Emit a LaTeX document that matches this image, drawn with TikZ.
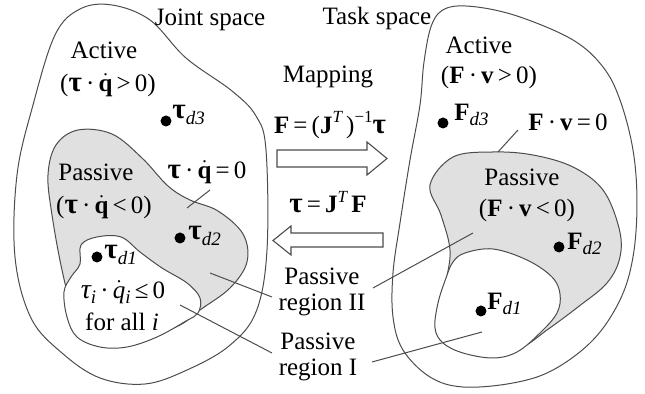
\documentclass[tikz,border=0pt]{standalone}
\usepackage{fontspec}
\setmainfont{Liberation Serif}
\newcommand{\Btau}{{\fontsize{14.5}{15}\selectfont\bfseries τ}}
\newcommand{\Itau}{{\fontsize{14}{15}\selectfont\itshape τ}}
\newcommand{\Bq}{$\dot{\mbox{\bfseries q}}$}
\newcommand{\Iq}{$\dot{\mbox{\itshape q}}$}
\newcommand{\Dt}{\,·\,}
\newcommand{\Sb}[1]{\raisebox{-0.45ex}{\fontsize{9.5}{10}\selectfont\itshape #1}}
\newcommand{\JT}{\textbf{J}\raisebox{0.9ex}{\fontsize{8.5}{9}\selectfont\itshape T}}
\tikzset{
  blob/.style={draw=black!70, line width=0.5pt},
  passive/.style={blob, fill=black!12},
  hole/.style={blob, fill=white},
  lbl/.style={inner sep=0pt, font=\fontsize{12.5}{15}\selectfont, align=center},
  dotm/.style={circle, fill=black, inner sep=0pt, minimum size=5.5pt},
  lead/.style={draw=black!70, line width=0.5pt},
  hollow/.style={draw=black!70, line width=0.55pt, fill=white},
}
\begin{document}
\begin{tikzpicture}[x=0.5pt, y=-0.5pt]
\useasboundingbox (0,0) rectangle (645,394);
% left outer blob
\draw[blob] plot[smooth cycle, tension=0.6] coordinates {(80,9) (112,5) (150,20) (186,58) (232,91) (256,116) (266,150) (267,250) (256,312) (229,346) (187,370) (145,384) (100,378) (62,353) (31,318) (15,257) (17,175) (33,105) (55,35)};
% left gray passive region
\draw[passive] plot[smooth cycle, tension=0.6] coordinates {(78,130) (112,134) (142,158) (168,186) (190,200) (218,211) (243,234) (247,262) (230,288) (200,310) (180,325) (150,335) (115,338) (90,330) (72,305) (62,270) (52,215) (48,175) (56,145)};
% left passive region I
\draw[hole] plot[smooth cycle, tension=0.6] coordinates {(81,245) (97,237) (121,237) (140,252) (162,268) (187,283) (200,298) (198,313) (186,321) (157,337) (127,347) (100,347) (77,337) (67,317) (64,292) (71,277) (80,264)};
% right outer blob
\draw[blob] plot[smooth cycle, tension=0.6] coordinates {(447,8) (477,7) (520,17) (573,40) (603,67) (620,100) (633,150) (637,203) (633,257) (620,300) (593,340) (553,370) (513,383) (463,387) (430,377) (403,350) (393,317) (393,273) (400,223) (410,160) (420,105) (424,62) (432,24)};
% right gray
\draw[passive] plot[smooth cycle, tension=0.6] coordinates {(453,157) (493,152) (533,155) (573,167) (603,190) (619,228) (620,257) (607,283) (578,307) (547,330) (520,348) (485,352) (450,342) (440,318) (446,282) (450,250) (441,215) (430,185)};
% right passive region I
\draw[hole] plot[smooth cycle, tension=0.6] coordinates {(465,253) (493,249) (527,260) (552,277) (560,294) (557,313) (540,333) (517,352) (493,358) (463,353) (443,343) (435,328) (438,303) (446,278) (453,262)};

% hollow arrows
\draw[hollow] (277,150) -- (367,150) -- (367,142) -- (387,158.5) -- (367,175) -- (367,167) -- (277,167) -- cycle;
\draw[hollow] (383,233) -- (291,233) -- (291,226) -- (273,240.5) -- (291,255) -- (291,247) -- (383,247) -- cycle;

% left labels
\node[lbl] (js) at (210,20) {Joint space};
\node[lbl] (actL) at (104,50) {Active};
\node[lbl] (actLc) at (108,85) {(\Btau\Dt\Bq\,>\,0)};
\node[dotm] (td3) at (166,121) {};
\node[lbl, anchor=west] (td3l) at (172,115) {\Btau\Sb{d3}};
\node[lbl] (pasL) at (96,172) {Passive};
\node[lbl] (pasLc) at (104,207) {(\Btau\Dt\Bq\,<\,0)};
\node[lbl] (zeroL) at (207,172) {\Btau\Dt\Bq\,=\,0};
\node[dotm] (td2) at (180,238) {};
\node[lbl, anchor=west] (td2l) at (188,236) {\Btau\Sb{d2}};
\node[dotm] (td1) at (97,257) {};
\node[lbl, anchor=west] (td1l) at (104,255) {\Btau\Sb{d1}};
\node[lbl] (condL) at (123,292) {\Itau\Sb{i}\Dt\Iq\Sb{i}\,≤\,0};
\node[lbl] (forall) at (122,322) {for all \textit{i}};

% middle labels
\node[lbl] (map) at (328,77) {Mapping};
\node[lbl] (fwd) at (330,125) {\textbf{F}\,=\,(\JT\,)\raisebox{0.9ex}{\fontsize{8.5}{9}\selectfont −1}\Btau};
\node[lbl] (bwd) at (328,202) {\Btau\,=\,\JT\,\textbf{F}};
\node[lbl] (p2) at (322,292) {Passive\\[-2pt]region II};
\node[lbl] (p1) at (318,357) {Passive\\[-2pt]region I};

% right labels
\node[lbl] (ts) at (377,18) {Task space};
\node[lbl] (actR) at (479,45) {Active};
\node[lbl] (actRc) at (489,77) {(\textbf{F}\Dt\textbf{v}\,>\,0)};
\node[dotm] (fd3) at (443,123) {};
\node[lbl, anchor=west] (fd3l) at (454,115) {\textbf{F}\Sb{d3}};
\node[lbl] (zeroR) at (568,122) {\textbf{F}\Dt\textbf{v}\,=\,0};
\node[lbl] (pasR) at (522,177) {Passive};
\node[lbl] (pasRc) at (527,210) {(\textbf{F}\Dt\textbf{v}\,<\,0)};
\node[dotm] (fd2) at (559,247) {};
\node[lbl, anchor=west] (fd2l) at (567,244) {\textbf{F}\Sb{d2}};
\node[dotm] (fd1) at (481,311) {};
\node[lbl, anchor=west] (fd1l) at (487,304) {\textbf{F}\Sb{d1}};

% leader lines
\coordinate (a1) at (210,190); \coordinate (a2) at (187,208);
\draw[lead] (a1) -- (a2);
\coordinate (b1) at (272,297); \coordinate (b2) at (210,273);
\draw[lead] (b1) -- (b2);
\coordinate (c1) at (272,353); \coordinate (c2) at (180,305);
\draw[lead] (c1) -- (c2);
\coordinate (d1) at (373,288); \coordinate (d2) at (473,233);
\draw[lead] (d1) -- (d2);
\coordinate (e1) at (372,362); \coordinate (e2) at (482,332);
\draw[lead] (e1) -- (e2);
\coordinate (f1) at (518,130); \coordinate (f2) at (498,152);
\draw[lead] (f1) -- (f2);
\end{tikzpicture}
\end{document}
